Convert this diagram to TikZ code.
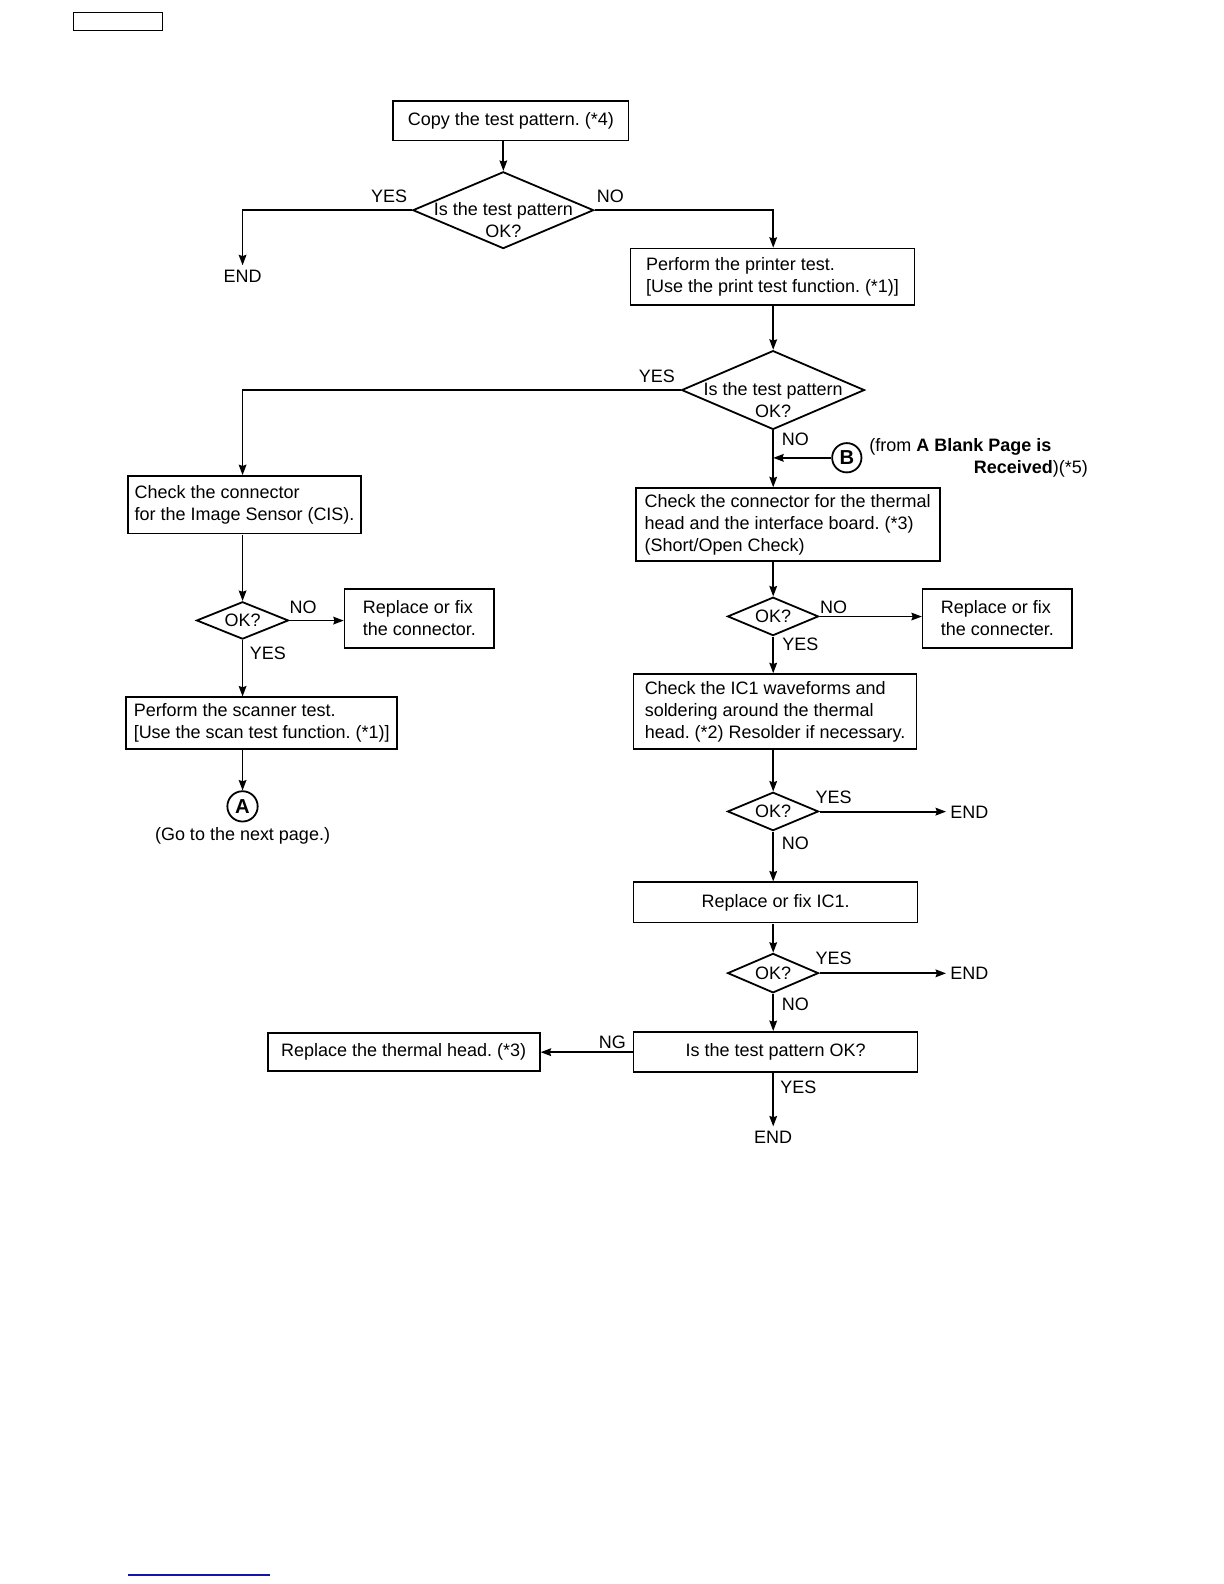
\documentclass[tikz,border=0pt]{standalone}
\usepackage{fontspec}
\setmainfont{Liberation Sans}
\usetikzlibrary{shapes.geometric,arrows.meta}
\definecolor{linkblue}{RGB}{20,20,170}
\frenchspacing
\begin{document}
\begin{tikzpicture}[x=0.5pt,y=-0.5pt,
  every node/.style={font=\fontsize{8.9}{10.9}\selectfont},
  box/.style={draw,line width=0.9pt,inner sep=0pt,align=left},
  dia/.style={draw,diamond,line width=0.9pt,inner sep=0pt},
  lbl/.style={inner sep=1pt},
  circ/.style={draw,circle,line width=0.9pt,inner sep=0pt,minimum size=14.5pt,font=\fontsize{10}{12}\selectfont\bfseries},
  arr/.style={line width=0.9pt,-{Stealth[length=5.2pt,width=3.8pt,inset=0.6pt]}},
  ln/.style={line width=0.9pt}]
\useasboundingbox[fill=white] (0,0) rectangle (1224,1584);
\begin{scope}[scale=1.0105,transform shape]
\draw[line width=0.6pt] (73,12) rectangle (161,30);
\draw[linkblue,line width=0.9pt] (127,1559) -- (267,1559);

% boxes
\node[box,minimum width=116.5pt,minimum height=19.5pt] (box1) at (505.5,119.5) {Copy the test pattern. (*4)};
\node[box,minimum width=140.5pt,minimum height=28pt] (box2) at (764.5,274) {Perform the printer test.\\{[}Use the print test function. (*1)]};
\node[box,minimum width=115pt,minimum height=28.5pt] (box3) at (242,499.5) {Check the connector\\for the Image Sensor (CIS).};
\node[box,minimum width=150.5pt,minimum height=36pt] (box4) at (779.5,519) {Check the connector for the thermal\\head and the interface board. (*3)\\(Short/Open Check)};
\node[box,minimum width=74pt,minimum height=29pt] (box5) at (415,612) {Replace or fix\\the connector.};
\node[box,minimum width=134pt,minimum height=25.5pt] (box6) at (259,715.5) {Perform the scanner test.\\{[}Use the scan test function. (*1)]};
\node[box,minimum width=74pt,minimum height=29pt] (box7) at (987,612) {Replace or fix\\the connecter.};
\node[box,minimum width=140pt,minimum height=37pt] (box8) at (767,704) {Check the IC1 waveforms and\\soldering around the thermal\\head. (*2) Resolder if necessary.};
\node[box,minimum width=140.5pt,minimum height=20pt] (box9) at (767.5,893) {Replace or fix IC1.};
\node[box,minimum width=140.5pt,minimum height=20pt] (box10) at (767.5,1041) {Is the test pattern OK?};
\node[box,minimum width=134.5pt,minimum height=19pt] (box11) at (399.5,1041) {Replace the thermal head. (*3)};

% diamonds
\node[dia,minimum width=89.5pt,minimum height=38pt,label={[yshift=-5pt,align=center]center:{Is the test pattern\\OK?}}] (d1) at (498,208) {};
\node[dia,minimum width=90.5pt,minimum height=39pt,label={[yshift=-5pt,align=center]center:{Is the test pattern\\OK?}}] (d2) at (765,386) {};
\node[dia,minimum width=45.5pt,minimum height=18.5pt,label={center:OK?}] (d3) at (240,614) {};
\node[dia,minimum width=45pt,minimum height=19pt,label={center:OK?}] (d4) at (765,610) {};
\node[dia,minimum width=45pt,minimum height=19pt,label={center:OK?}] (d5) at (765,803) {};
\node[dia,minimum width=45pt,minimum height=19.5pt,label={center:OK?}] (d6) at (765,963) {};

% circles
\node[circ] (cB) at (838,453) {B};
\node[circ,minimum size=15pt] (cA) at (240,798) {A};

% END nodes and texts
\node[lbl,inner sep=2pt] (end1) at (240,273) {END};
\node[lbl,inner sep=2pt,anchor=west] (end2) at (936,804) {END};
\node[lbl,inner sep=2pt,anchor=west] (end3) at (936,963) {END};
\node[lbl,inner sep=2pt] (end4) at (765,1125) {END};
\node[lbl] (gonext) at (240,827) {(Go to the next page.)};
\node[lbl,anchor=west] (from1) at (858,442) {(from \textbf{A Blank Page is}};
\node[lbl,anchor=east] (from2) at (1079,464) {\textbf{Received})(*5)};

% connector labels
\node[lbl] (y1) at (385,194) {YES};
\node[lbl] (n1) at (604,194) {NO};
\node[lbl] (y2) at (650,372) {YES};
\node[lbl] (n2) at (787,435) {NO};
\node[lbl] (n3) at (300,601) {NO};
\node[lbl] (y3) at (265,647) {YES};
\node[lbl] (n4) at (825,601) {NO};
\node[lbl] (y4) at (792,638) {YES};
\node[lbl] (y5) at (825,789) {YES};
\node[lbl] (n5) at (787,835) {NO};
\node[lbl] (y6) at (825,948) {YES};
\node[lbl] (n6) at (787,994) {NO};
\node[lbl] (ng) at (606,1031) {NG};
\node[lbl] (y7) at (790,1076) {YES};

% connectors
\draw[arr] (box1.south -| d1.north) -- (d1.north);
\draw[arr] (d1.west) -| (end1.north);
\draw[arr] (d1.east) -| (box2.north -| d2.north);
\draw[arr] (box2.south -| d2.north) -- (d2.north);
\draw[arr] (d2.west) -| (box3.north -| d3.north);
\draw[arr] (d2.south) -- (box4.north -| d2.south);
\draw[arr] (cB.west) -- (cB.west -| d2.south);
\draw[arr] (box3.south -| d3.north) -- (d3.north);
\draw[arr] (d3.east) -- (d3.east -| box5.west);
\draw[arr] (d3.south) -- (box6.north -| d3.south);
\draw[arr] (box6.south -| cA.north) -- (cA.north);
\draw[arr] (box4.south -| d4.north) -- (d4.north);
\draw[arr] (d4.east) -- (d4.east -| box7.west);
\draw[arr] (d4.south) -- (box8.north -| d4.south);
\draw[arr] (box8.south -| d5.north) -- (d5.north);
\draw[arr] (d5.east) -- (d5.east -| end2.west);
\draw[arr] (d5.south) -- (box9.north -| d5.south);
\draw[arr] (box9.south -| d6.north) -- (d6.north);
\draw[arr] (d6.east) -- (d6.east -| end3.west);
\draw[arr] (d6.south) -- (box10.north -| d6.south);
\draw[arr] (box10.west) -- (box11.east);
\draw[arr] (box10.south -| d6.south) -- (end4.north);
\end{scope}
\end{tikzpicture}
\end{document}
